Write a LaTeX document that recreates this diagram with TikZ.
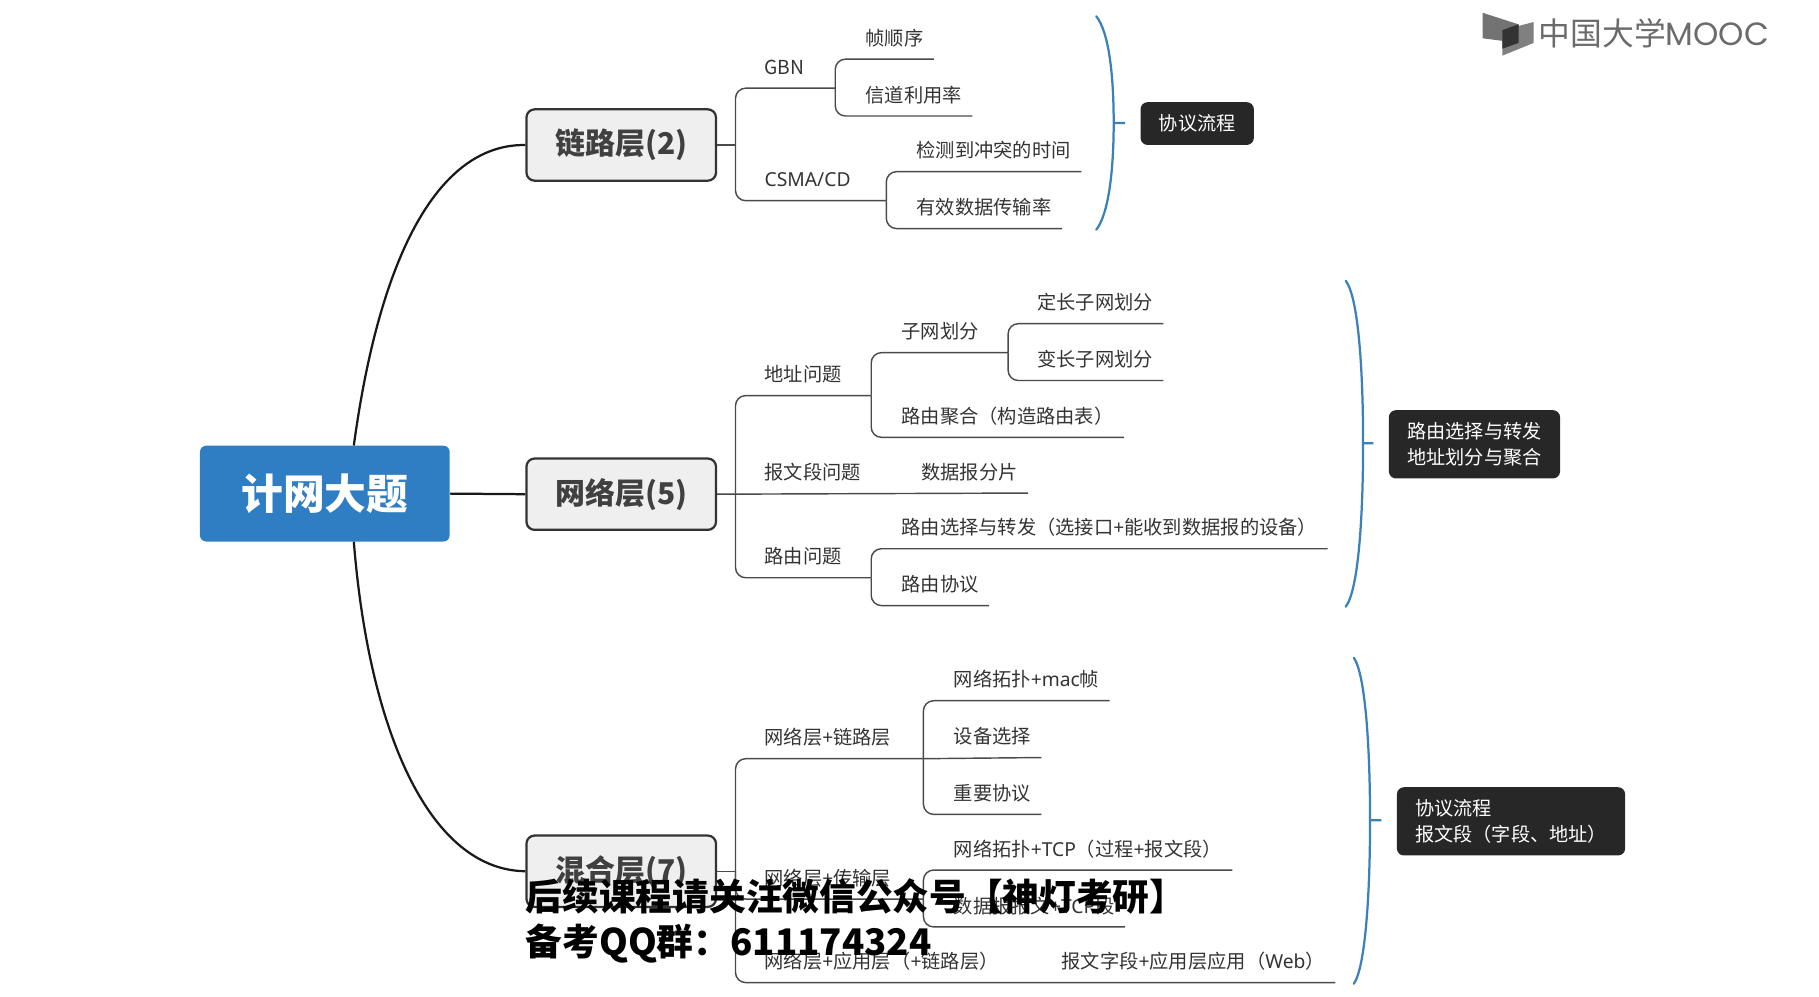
\documentclass[tikz,border=0pt]{standalone}
\usepackage{fontspec}
\usepackage{xcolor}
\setmainfont{Noto Sans CJK SC}
\newfontfamily\moocfont{Poppins}
\newfontfamily\ltnfont{Noto Sans}
\definecolor{rootblue}{HTML}{2F7EC3}
\definecolor{bracketblue}{HTML}{3A80B9}
\definecolor{tagblack}{HTML}{272727}
\definecolor{layergray}{HTML}{EFEFEF}
\definecolor{branchgray}{HTML}{4A4A4A}

\tikzset{
    rootbox/.style={draw=none, fill=rootblue, rounded corners=3pt, text=white, font=\fontsize{20.5}{24}\selectfont\bfseries, minimum width=122.5pt, minimum height=47pt, inner sep=0pt},
    layerbox/.style={draw=black!80, line width=1.1pt, fill=layergray, rounded corners=4pt, text=black!75, font=\fontsize{14.7}{18}\selectfont\bfseries, minimum width=93pt, minimum height=35pt, inner sep=0pt},
    tagbox/.style={fill=tagblack, rounded corners=3.5pt, text=white, font=\fontsize{9.4}{12.5}\selectfont, align=left, inner sep=0pt, minimum height=21pt},
    leaf/.style={anchor=south west, text=black!80, font=\fontsize{9.45}{11}\selectfont, inner xsep=5pt, inner ysep=0pt, minimum height=20.4pt},
    branch/.style={draw=branchgray, line width=0.7pt, rounded corners=5pt},
    trunk/.style={draw=black!90, line width=1.1pt},
    bracket/.style={draw=bracketblue, line width=1.1pt, line cap=round},
    tick/.style={draw=bracketblue, line width=1.1pt, shorten >=7.4pt},
    notice/.style={anchor=west, text=black, font=\fontsize{18}{21}\selectfont\bfseries, inner sep=0pt},
}

\begin{document}
\begin{tikzpicture}[x=0.02cm, y=-0.02cm]
    \useasboundingbox (0,0) rectangle (1568,859);

    \node[rootbox] (root) at (280,425.5) {计网大题};
    \node[layerbox] (link) at (535.5,125) {链路层(2)};
    \node[layerbox] (net) at (535.5,426) {网络层(5)};
    \node[layerbox] (mix) at (535.5,751) {混合层(7)};

    \coordinate (roottop) at (305,384);
    \coordinate (rootbottom) at (305,467);
    \draw[trunk] (roottop) .. controls (328,215) and (380,124) .. (link.west);
    \draw[trunk] (root.east) -- (net.west);
    \draw[trunk] (rootbottom) .. controls (318,630) and (370,750) .. (mix.west);

    % link layer
    \node[leaf] (gbn) at (650,76) {GBN};
    \node[leaf] (csma) at (650,173) {{\ltnfont CSMA/CD}};
    \node[leaf] (order) at (737,51) {帧顺序};
    \node[leaf] (usage) at (737,100) {信道利用率};
    \node[leaf] (detect) at (781,148) {检测到冲突的时间};
    \node[leaf] (rate) at (781,197) {有效数据传输率};
    \coordinate (linkfork) at (634,125);
    \coordinate (gbnfork) at (720,76);
    \coordinate (csmafork) at (764,173);
    \draw[branch] (link.east) -- (linkfork);
    \draw[branch] (linkfork) |- (gbnfork);
    \draw[branch] (linkfork) |- (csmafork);
    \draw[branch] (gbnfork) |- (order.south east);
    \draw[branch] (gbnfork) |- (usage.south east);
    \draw[branch] (csmafork) |- (detect.south east);
    \draw[branch] (csmafork) |- (rate.south east);

    % network layer
    \node[leaf] (addr) at (650,341) {地址问题};
    \node[leaf] (seg) at (650,425) {报文段问题};
    \node[leaf] (route) at (650,498) {路由问题};
    \node[leaf] (subnet) at (768,304) {子网划分};
    \node[leaf] (fixed) at (885,279) {定长子网划分};
    \node[leaf] (vari) at (885,328) {变长子网划分};
    \node[leaf] (aggr) at (768,377) {路由聚合（构造路由表）};
    \node[leaf] (frag) at (785,425) {数据报分片};
    \node[leaf] (forward) at (768,473) {路由选择与转发（选接口{\ltnfont+}能收到数据报的设备）};
    \node[leaf] (proto) at (768,522) {路由协议};
    \coordinate (netfork) at (634,425);
    \coordinate (addrfork) at (751,341);
    \coordinate (subfork) at (869,304);
    \coordinate (routefork) at (751,498);
    \draw[branch] (netfork) |- (addrfork);
    \draw[branch] (netfork) |- (routefork);
    \draw[branch] (net.east) -- (frag.south east);
    \draw[branch] (addrfork) |- (subfork);
    \draw[branch] (addrfork) |- (aggr.south east);
    \draw[branch] (subfork) |- (fixed.south east);
    \draw[branch] (subfork) |- (vari.south east);
    \draw[branch] (routefork) |- (forward.south east);
    \draw[branch] (routefork) |- (proto.south east);

    % mixed layer
    \node[leaf] (mixlink) at (650,654) {网络层{\ltnfont+}链路层};
    \node[leaf] (mixtrans) at (650,775) {网络层{\ltnfont+}传输层};
    \node[leaf] (mixapp) at (650,847) {网络层{\ltnfont+}应用层（{\ltnfont+}链路层）};
    \node[leaf] (topo) at (813,604) {网络拓扑{\ltnfont+mac}帧};
    \node[leaf] (device) at (813,653) {设备选择};
    \node[leaf] (key) at (813,702) {重要协议};
    \node[leaf] (tcp) at (813,750) {网络拓扑{\ltnfont+TCP}（过程{\ltnfont+}报文段）};
    \node[leaf] (packet) at (813,799) {数据报报文{\ltnfont+TCP}段};
    \node[leaf] (field) at (906,847) {报文字段{\ltnfont+}应用层应用（{\ltnfont Web}）};
    \coordinate (mixfork) at (634,751);
    \coordinate (linkbar) at (796,654);
    \coordinate (transbar) at (796,775);
    \draw[branch] (mix.east) -- (mixfork);
    \draw[branch] (mixfork) |- (linkbar);
    \draw[branch] (mixfork) |- (transbar);
    \draw[branch] (mixfork) |- (field.south east);
    \draw[branch] (linkbar) |- (topo.south east);
    \draw[branch] (linkbar) -- (device.south east);
    \draw[branch] (linkbar) |- (key.south east);
    \draw[branch] (transbar) |- (tcp.south east);
    \draw[branch] (transbar) |- (packet.south east);

    % side notes
    \node[tagbox, minimum width=55.6pt] (flow) at (1032,106.5) {协议流程};
    \node[tagbox, minimum width=84pt, minimum height=33.5pt] (forwarding) at (1271,383) {路由选择与转发\\地址划分与聚合};
    \node[tagbox, minimum width=112pt, minimum height=33.5pt] (fields) at (1302.5,708) {协议流程\\报文段（字段、地址）};
    \coordinate (bracketa) at (960,106);
    \coordinate (bracketb) at (1175,382);
    \coordinate (bracketc) at (1181,707);
    \draw[bracket] (945,14) .. controls (956,28) and (960,65) .. (bracketa) .. controls (960,145) and (956,184) .. (945,198);
    \draw[bracket] (1160,242) .. controls (1171,256) and (1175,320) .. (bracketb) .. controls (1175,445) and (1171,509) .. (1160,523);
    \draw[bracket] (1167,567) .. controls (1177,581) and (1181,645) .. (bracketc) .. controls (1181,770) and (1177,834) .. (1167,848);
    \draw[tick] (bracketa) -- (flow);
    \draw[tick] (bracketb) -- (forwarding);
    \draw[tick] (bracketc) -- (fields);

    % logo
    \fill[black!55] (1278,11) -- (1309,21) -- (1309,37) -- (1278,33) -- cycle;
    \fill[black!50] (1295,26) -- (1322,19) -- (1322,37) -- (1295,48) -- cycle;
    \fill[black!80] (1295,26) -- (1309,21) -- (1309,37) -- (1295,42) -- cycle;
    \node[anchor=west, inner sep=0pt, text=black!58, font=\fontsize{15.6}{18}\selectfont] (logotext) at (1326,29) {中国大学{\moocfont\fontsize{15.8}{18}\selectfont MOOC}};

    % text laid over the bottom of the page
    \node[notice] (follow) at (453,773) {后续课程请关注微信公众号【神灯考研】};
    \node[notice] (group) at (453,813) {备考QQ群：611174324};
\end{tikzpicture}
\end{document}
